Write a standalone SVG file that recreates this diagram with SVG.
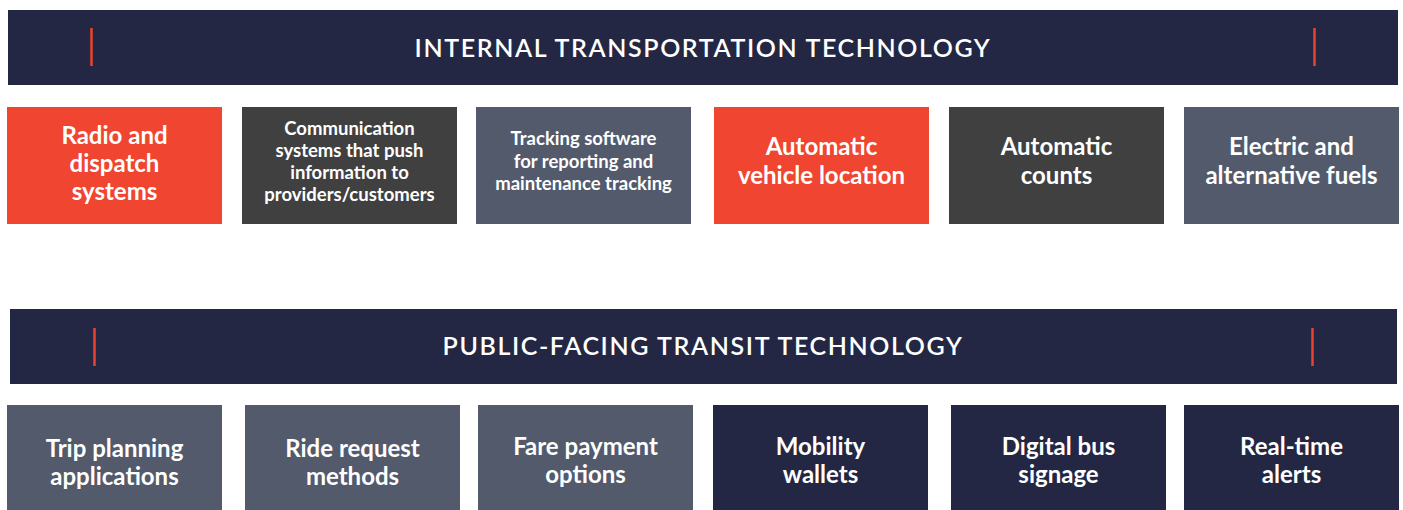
<svg xmlns="http://www.w3.org/2000/svg" width="1403" height="510" viewBox="0 0 1403 510">
  <style>
    .banner { fill: #232743; }
    .tick { stroke: #E8432B; stroke-width: 2.5; }
    .red { fill: #F04530; }
    .dark { fill: #404041; }
    .slate { fill: #525A6C; }
    .navy { fill: #232743; }
    .title { font-family: Lato, "Liberation Sans", sans-serif; font-size: 25px; font-weight: 600; fill: #ffffff; text-anchor: middle; letter-spacing: 1.6px; }
    .lg { font-family: Lato, "Liberation Sans", sans-serif; font-size: 24px; font-weight: 700; fill: #ffffff; text-anchor: middle; }
    .sm { font-family: Lato, "Liberation Sans", sans-serif; font-size: 18.5px; font-weight: 700; fill: #ffffff; text-anchor: middle; }
  </style>

  <!-- Section 1: internal technology -->
  <g id="banner-internal">
    <rect class="banner" x="8" y="10" width="1390" height="75"/>
    <line class="tick" x1="91.5" y1="28" x2="91.5" y2="66"/>
    <line class="tick" x1="1314.5" y1="28" x2="1314.5" y2="66"/>
    <text class="title" x="703" y="57">INTERNAL TRANSPORTATION TECHNOLOGY</text>
  </g>

  <g id="radio-dispatch">
    <rect class="red" x="7" y="107" width="215" height="117"/>
    <text class="lg" x="114.5" y="144">Radio and</text>
    <text class="lg" x="114.5" y="172">dispatch</text>
    <text class="lg" x="114.5" y="200">systems</text>
  </g>

  <g id="communication-systems">
    <rect class="dark" x="242" y="107" width="215" height="117"/>
    <text class="sm" x="349.5" y="135">Communication</text>
    <text class="sm" x="349.5" y="157">systems that push</text>
    <text class="sm" x="349.5" y="179">information to</text>
    <text class="sm" x="349.5" y="201">providers/customers</text>
  </g>

  <g id="tracking-software">
    <rect class="slate" x="476" y="107" width="215" height="117"/>
    <text class="sm" x="583.5" y="145">Tracking software</text>
    <text class="sm" x="583.5" y="168">for reporting and</text>
    <text class="sm" x="583.5" y="190">maintenance tracking</text>
  </g>

  <g id="avl">
    <rect class="red" x="714" y="107" width="215" height="117"/>
    <text class="lg" x="821.5" y="155">Automatic</text>
    <text class="lg" x="821.5" y="184">vehicle location</text>
  </g>

  <g id="automatic-counts">
    <rect class="dark" x="949" y="107" width="215" height="117"/>
    <text class="lg" x="1056.5" y="155">Automatic</text>
    <text class="lg" x="1056.5" y="184">counts</text>
  </g>

  <g id="electric-fuels">
    <rect class="slate" x="1184" y="107" width="215" height="117"/>
    <text class="lg" x="1291.5" y="155">Electric and</text>
    <text class="lg" x="1291.5" y="184">alternative fuels</text>
  </g>

  <!-- Section 2: public-facing technology -->
  <g id="banner-public">
    <rect class="banner" x="10" y="309" width="1387" height="75"/>
    <line class="tick" x1="94.5" y1="328" x2="94.5" y2="366"/>
    <line class="tick" x1="1312.5" y1="328" x2="1312.5" y2="366"/>
    <text class="title" x="703" y="355">PUBLIC-FACING TRANSIT TECHNOLOGY</text>
  </g>

  <g id="trip-planning">
    <rect class="slate" x="7" y="405" width="215" height="110"/>
    <text class="lg" x="114.5" y="457">Trip planning</text>
    <text class="lg" x="114.5" y="485">applications</text>
  </g>

  <g id="ride-request">
    <rect class="slate" x="245" y="405" width="215" height="110"/>
    <text class="lg" x="352.5" y="457">Ride request</text>
    <text class="lg" x="352.5" y="485">methods</text>
  </g>

  <g id="fare-payment">
    <rect class="slate" x="478" y="405" width="215" height="110"/>
    <text class="lg" x="585.5" y="455">Fare payment</text>
    <text class="lg" x="585.5" y="483">options</text>
  </g>

  <g id="mobility-wallets">
    <rect class="navy" x="713" y="405" width="215" height="110"/>
    <text class="lg" x="820.5" y="455">Mobility</text>
    <text class="lg" x="820.5" y="483">wallets</text>
  </g>

  <g id="digital-signage">
    <rect class="navy" x="951" y="405" width="215" height="110"/>
    <text class="lg" x="1058.5" y="455">Digital bus</text>
    <text class="lg" x="1058.5" y="483">signage</text>
  </g>

  <g id="realtime-alerts">
    <rect class="navy" x="1184" y="405" width="215" height="110"/>
    <text class="lg" x="1291.5" y="455">Real-time</text>
    <text class="lg" x="1291.5" y="483">alerts</text>
  </g>

  <!-- no connectors in this layout -->
  <g id="connectors"/>
</svg>
